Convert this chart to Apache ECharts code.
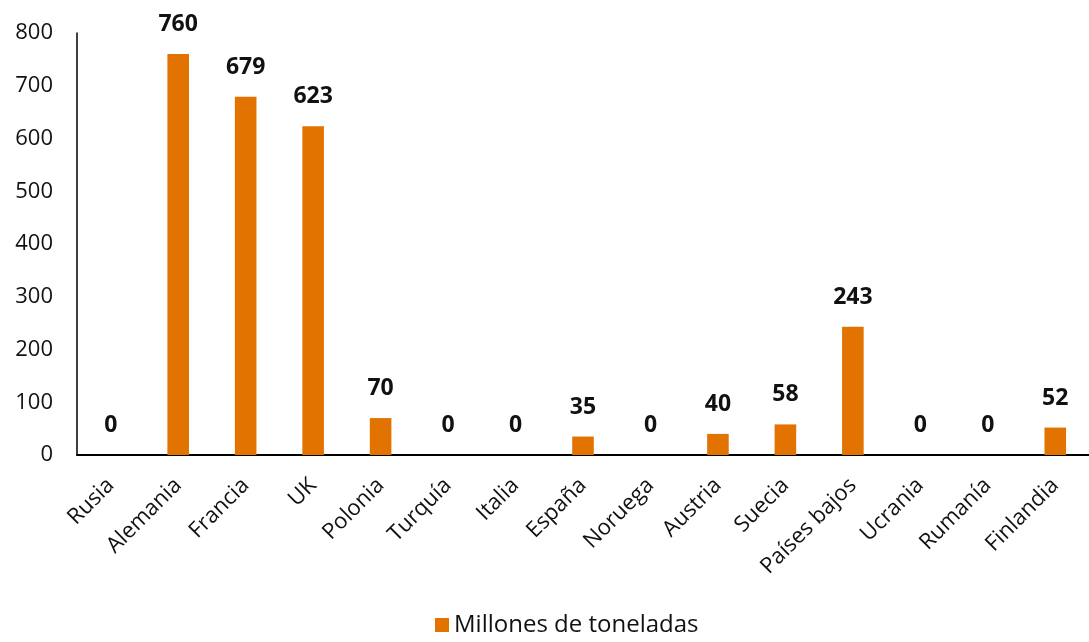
<!DOCTYPE html>
<html>
<head>
<meta charset="utf-8">
<script src="https://cdn.jsdelivr.net/npm/echarts@6/dist/echarts.min.js"></script>
<style>
  html, body { margin: 0; padding: 0; background: #fff; }
  #chart { width: 1089px; height: 642px; }
</style>
</head>
<body>
<div id="chart"></div>
<script>
const paises = ['Rusia', 'Alemania', 'Francia', 'UK', 'Polonia', 'Turquía', 'Italia', 'España',
  'Noruega', 'Austria', 'Suecia', 'Países bajos', 'Ucrania', 'Rumanía', 'Finlandia'];
const toneladas = [0, 760, 679, 623, 70, 0, 0, 35, 0, 40, 58, 243, 0, 0, 52];
const serieNombre = 'Millones de toneladas';

const chart = echarts.init(document.getElementById('chart'));
const fuente = '"Open Sans", "Noto Sans", sans-serif';

chart.setOption({
  animation: false,
  textStyle: { fontFamily: fuente },
  grid: { left: 77, right: 0, top: 33, bottom: 187, containLabel: false },
  legend: {
    bottom: 0,
    left: 430,
    itemWidth: 14,
    itemHeight: 14,
    itemGap: 6,
    icon: 'rect',
    textStyle: { fontSize: 24, color: '#111', fontFamily: fuente },
    data: [serieNombre]
  },
  xAxis: {
    type: 'category',
    data: paises,
    axisLine: { lineStyle: { color: '#000', width: 2 } },
    axisTick: { show: false },
    axisLabel: {
      rotate: 45,
      interval: 0,
      margin: 27,
      fontSize: 22,
      color: '#111'
    }
  },
  yAxis: {
    type: 'value',
    min: 0,
    max: 800,
    interval: 100,
    splitLine: { show: false },
    axisLine: { show: true, lineStyle: { color: '#000', width: 1.5 } },
    axisTick: { show: false },
    axisLabel: { fontSize: 22, color: '#111', margin: 24 }
  },
  series: [
    {
      name: serieNombre,
      type: 'bar',
      data: toneladas,
      barWidth: '32%',
      itemStyle: { color: '#E27300' },
      label: {
        show: true,
        position: 'top',
        distance: 18,
        fontSize: 23,
        fontWeight: 'bold',
        color: '#111'
      }
    }
  ]
});
</script>
</body>
</html>
